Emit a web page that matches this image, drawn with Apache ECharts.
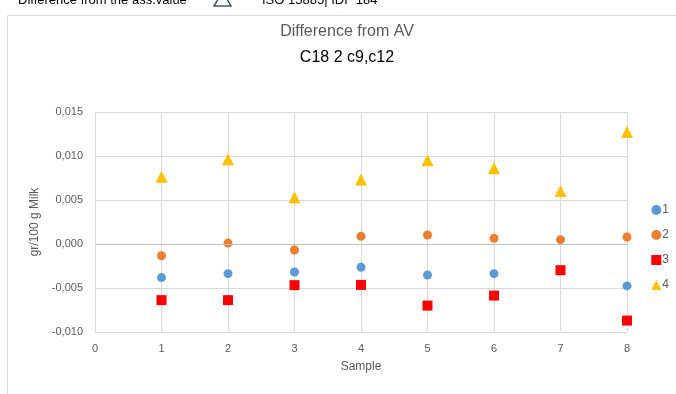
<!DOCTYPE html>
<html>
<head>
<meta charset="utf-8">
<script src="https://cdn.jsdelivr.net/npm/echarts@6/dist/echarts.min.js"></script>
<style>html,body{margin:0;padding:0;background:#fff;}#c{width:676px;height:394px;}</style>
</head>
<body>
<div id="c"></div>
<script>
const samples = [1, 2, 3, 4, 5, 6, 7, 8];
const series1 = [-0.00382, -0.00337, -0.00318, -0.00264, -0.00352, -0.00337, null, -0.00476];
const series2 = [-0.00133, 0.0001, -0.00068, 0.00087, 0.00102, 0.00065, 0.00049, 0.0008];
const series3 = [-0.00638, -0.00638, -0.00468, -0.00465, -0.0070, -0.00586, -0.00298, -0.0087];
const series4 = [0.00763, 0.00964, 0.0053, 0.00734, 0.00952, 0.00862, 0.00601, 0.01273];
const seriesNames = ['1', '2', '3', '4'];

const FONT = '"Liberation Sans", "Open Sans", sans-serif';
function pts(vals) { return samples.map((s, i) => [s, vals[i]]).filter(p => p[1] !== null); }

const chart = echarts.init(document.getElementById('c'), null, {renderer: 'canvas'});
chart.setOption({
  animation: false,
  backgroundColor: '#fff',
  textStyle: {fontFamily: FONT},
  graphic: [
    {type: 'rect', shape: {x: 7.5, y: 15.5, width: 700, height: 400}, style: {fill: 'none', stroke: '#d9d9d9', lineWidth: 1}, z: 0},
    {type: 'text', x: 18, y: 7, style: {text: 'Difference from the ass.value', fill: '#000', font: '13px ' + FONT, textVerticalAlign: 'bottom'}},
    {type: 'polygon', shape: {points: [[214, 6], [222.5, -8], [231, 6]]}, style: {fill: 'none', stroke: '#44546a', lineWidth: 1.5}},
    {type: 'text', x: 262, y: 7, style: {text: 'ISO 15885| IDF 184', fill: '#000', font: '13px ' + FONT, textVerticalAlign: 'bottom'}},
    {type: 'text', x: 347, y: 32, style: {text: 'Difference from AV', fill: '#595959', font: '16px ' + FONT, textAlign: 'center', textVerticalAlign: 'middle'}},
    {type: 'text', x: 347, y: 58, style: {text: 'C18 2 c9,c12', fill: '#000', font: '16px ' + FONT, textAlign: 'center', textVerticalAlign: 'middle'}}
  ],
  legend: {
    orient: 'vertical', right: 2, top: 199, itemWidth: 10, itemHeight: 10, itemGap: 13,
    textStyle: {color: '#595959', fontSize: 12, fontFamily: FONT, padding: [0, 0, 0, -4]},
    data: seriesNames
  },
  grid: {left: 95, right: 49, top: 112, bottom: 62, containLabel: false},
  xAxis: {
    type: 'value', min: 0, max: 8, interval: 1,
    name: 'Sample', nameLocation: 'middle', nameGap: 29,
    nameTextStyle: {color: '#595959', fontSize: 12, fontFamily: FONT},
    axisLine: {show: false}, axisTick: {show: false},
    axisLabel: {color: '#595959', fontSize: 11, fontFamily: FONT, margin: 11},
    splitLine: {show: true, lineStyle: {color: '#d9d9d9', width: 1}}
  },
  yAxis: {
    type: 'value', min: -0.010, max: 0.015, interval: 0.005,
    name: 'gr/100 g Milk', nameLocation: 'middle', nameGap: 51,
    nameTextStyle: {color: '#595959', fontSize: 12, fontFamily: FONT},
    axisLine: {show: false}, axisTick: {show: false},
    axisLabel: {color: '#595959', fontSize: 11, fontFamily: FONT, margin: 12,
      formatter: v => v.toFixed(3).replace('.', ',')},
    splitLine: {show: true, lineStyle: {color: '#d9d9d9', width: 1}}
  },
  series: [
    {name: '1', type: 'scatter', symbol: 'circle', symbolSize: 9, itemStyle: {color: '#5b9bd5', opacity: 1}, data: pts(series1),
     markLine: {silent: true, symbol: 'none', label: {show: false}, lineStyle: {color: '#bfbfbf', type: 'solid', width: 1}, data: [{yAxis: 0}]}},
    {name: '2', type: 'scatter', symbol: 'circle', symbolSize: 9, itemStyle: {color: '#ed7d31', opacity: 1}, data: pts(series2)},
    {name: '3', type: 'scatter', symbol: 'rect', symbolSize: 10, itemStyle: {color: '#ff0000', opacity: 1}, data: pts(series3)},
    {name: '4', type: 'scatter', symbol: 'triangle', symbolSize: 12, itemStyle: {color: '#ffc000', opacity: 1}, data: pts(series4)}
  ]
});
</script>
</body>
</html>
